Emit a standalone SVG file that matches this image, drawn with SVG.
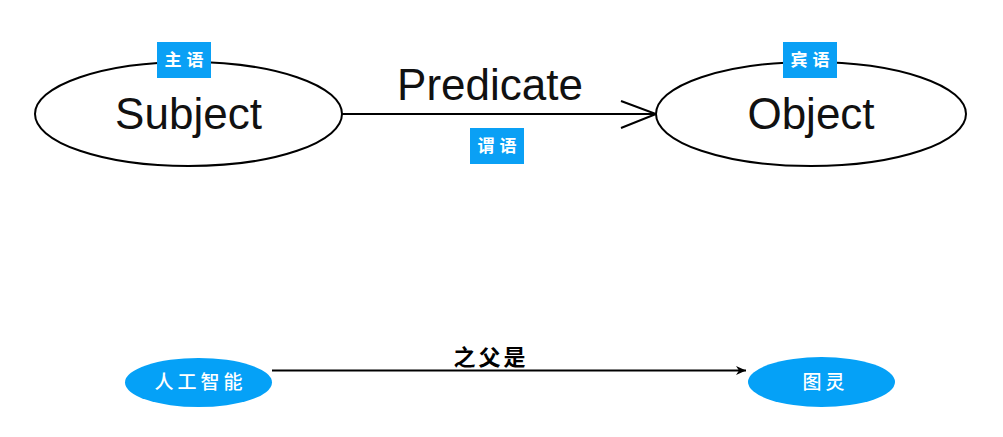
<svg xmlns="http://www.w3.org/2000/svg" width="1003" height="437" viewBox="0 0 1003 437">
<style>
.node{fill:#fff;stroke:#000;stroke-width:2}
.big{font-family:"Liberation Sans",Arial,sans-serif;font-size:44px;fill:#111;text-anchor:middle}
.tag{fill:#0aa0f5}
.tagt{font-family:"Noto Sans CJK SC",sans-serif;font-size:17px;fill:#fff;text-anchor:middle;letter-spacing:5px;font-weight:bold}
.bn{fill:#05a1f7}
.bnt{font-family:"Noto Sans CJK SC",sans-serif;font-size:19px;fill:#fff;text-anchor:middle;letter-spacing:4px;font-weight:500}
.edge{stroke:#000;stroke-width:2;fill:none}
</style>
<defs>
<marker id="ah" markerWidth="12" markerHeight="10" refX="10" refY="4.5" orient="auto" markerUnits="userSpaceOnUse">
<path d="M0,0 L10,4.5 L0,9 L3,4.5 Z" fill="#000"/>
</marker>
</defs>
<rect width="1003" height="437" fill="#fff"/>
<g id="connectors">
<line class="edge" x1="342" y1="114" x2="656" y2="114"/>
<polyline class="edge" points="621,101 656,114 621,128"/>
<text class="big" x="490" y="100">Predicate</text>
<line x1="272" y1="370.5" x2="746" y2="370.5" stroke="#000" stroke-width="2" marker-end="url(#ah)"/>
<text x="491" y="365" font-family="'Noto Sans CJK SC',sans-serif" font-size="22" font-weight="bold" fill="#000" text-anchor="middle" letter-spacing="3">之父是</text>
</g>
<g id="subject">
<ellipse class="node" cx="188.5" cy="114" rx="153.5" ry="52"/>
<text class="big" x="188.5" y="129">Subject</text>
</g>
<g id="object">
<ellipse class="node" cx="811" cy="114" rx="155" ry="52"/>
<text class="big" x="811" y="129">Object</text>
</g>
<g id="tag-subject">
<rect class="tag" x="157" y="42" width="54" height="36"/>
<text class="tagt" x="186.5" y="66">主语</text>
</g>
<g id="tag-predicate">
<rect class="tag" x="470" y="128" width="54" height="36"/>
<text class="tagt" x="499.5" y="152">谓语</text>
</g>
<g id="tag-object">
<rect class="tag" x="783" y="42" width="54" height="36"/>
<text class="tagt" x="812.5" y="66">宾语</text>
</g>
<g id="ai">
<ellipse class="bn" cx="198.5" cy="382.5" rx="73.5" ry="24.5"/>
<text class="bnt" x="200.5" y="389">人工智能</text>
</g>
<g id="turing">
<ellipse class="bn" cx="821.5" cy="382" rx="73.5" ry="25"/>
<text class="bnt" x="825.5" y="389">图灵</text>
</g>
</svg>
